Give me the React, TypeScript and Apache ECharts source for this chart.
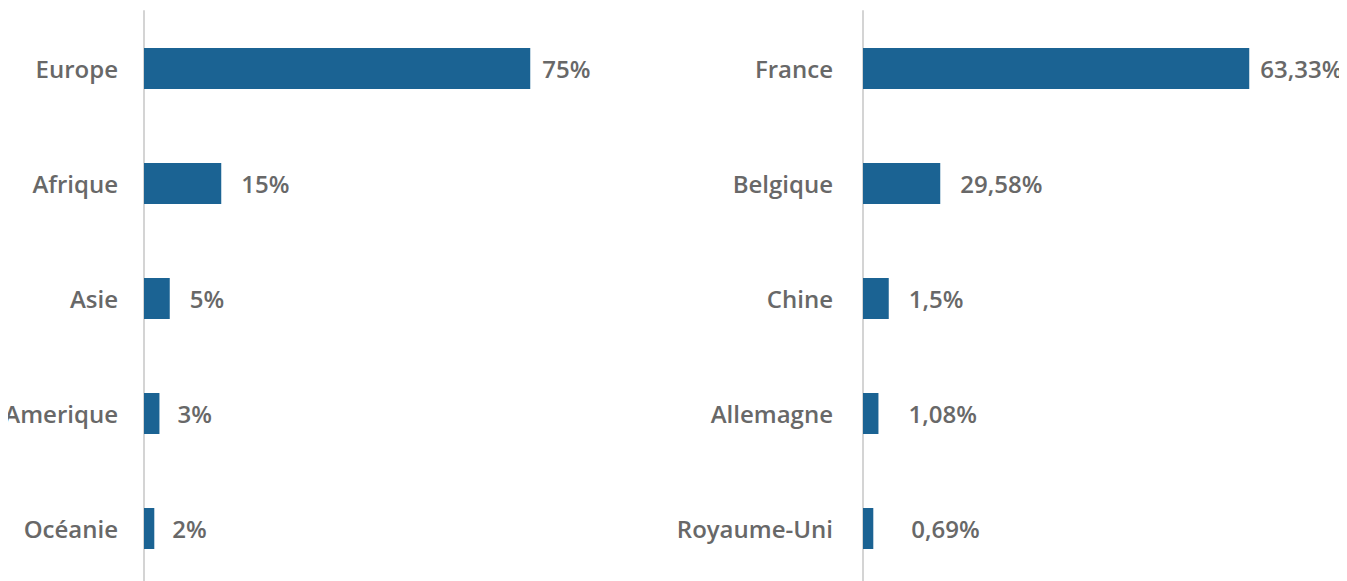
import React, { useEffect, useRef } from "react";
import * as echarts from "echarts";

const regions = ["Europe", "Afrique", "Asie", "Amerique", "Océanie"];
const regionValues = [75, 15, 5, 3, 2];
const regionLabels = ["75%", "15%", "5%", "3%", "2%"];

const countries = ["France", "Belgique", "Chine", "Allemagne", "Royaume-Uni"];
const countryBarValues = [75, 15, 5, 3, 2];
const countryLabels = ["63,33%", "29,58%", "1,5%", "1,08%", "0,69%"];

const leftLabelGaps = [12, 20, 20, 18, 18];
const rightLabelGaps = [11, 20, 20, 30, 38];

const BAR = "#1b6393";
const TEXT = "#686868";
const FONT = "'Open Sans', 'DejaVu Sans', sans-serif";
const FS = 24;

export default function App() {
  const ref = useRef<HTMLDivElement>(null);
  useEffect(() => {
    document.documentElement.style.overflow = "hidden";
    document.body.style.overflow = "hidden";
    const chart = echarts.init(ref.current!, undefined, { renderer: "svg" });
    const gridH = 575;
    const gridW = 412;
    const makeY = (cats: string[], gi: number, margin: number) => ({
      type: "category",
      gridIndex: gi,
      data: cats,
      inverse: true,
      axisLine: { show: true, lineStyle: { color: "#d4d4d4", width: 2 } },
      axisTick: { show: false },
      axisLabel: {
        margin,
        color: TEXT,
        fontFamily: FONT,
        fontSize: FS,
        fontWeight: 600,
      },
    });
    const makeX = (gi: number) => ({
      type: "value",
      gridIndex: gi,
      min: 0,
      max: 80,
      show: false,
      splitLine: { show: false },
    });
    const makeData = (vals: number[], labels: string[], gaps: number[]) =>
      vals.map((v, i) => ({
        value: v,
        label: { distance: gaps[i], formatter: labels[i] },
      }));
    const labelStyle = {
      show: true,
      position: "right",
      color: TEXT,
      fontFamily: FONT,
      fontSize: FS,
      fontWeight: 600,
    };
    chart.setOption({
      animation: false,
      grid: [
        { left: 136, top: 3, width: gridW, height: gridH, containLabel: false, outerBoundsMode: "none" },
        { left: 855, top: 3, width: gridW, height: gridH, containLabel: false, outerBoundsMode: "none" },
      ],
      xAxis: [makeX(0), makeX(1)],
      yAxis: [makeY(regions, 0, 26), makeY(countries, 1, 30)],
      series: [
        {
          type: "bar",
          xAxisIndex: 0,
          yAxisIndex: 0,
          barWidth: 41,
          itemStyle: { color: BAR },
          label: labelStyle,
          data: makeData(regionValues, regionLabels, leftLabelGaps),
        },
        {
          type: "bar",
          xAxisIndex: 1,
          yAxisIndex: 1,
          barWidth: 41,
          itemStyle: { color: BAR },
          label: labelStyle,
          data: makeData(countryBarValues, countryLabels, rightLabelGaps),
        },
      ],
    });
    return () => chart.dispose();
  }, []);
  return <div ref={ref} style={{ width: 1339, height: 600 }} />;
}
